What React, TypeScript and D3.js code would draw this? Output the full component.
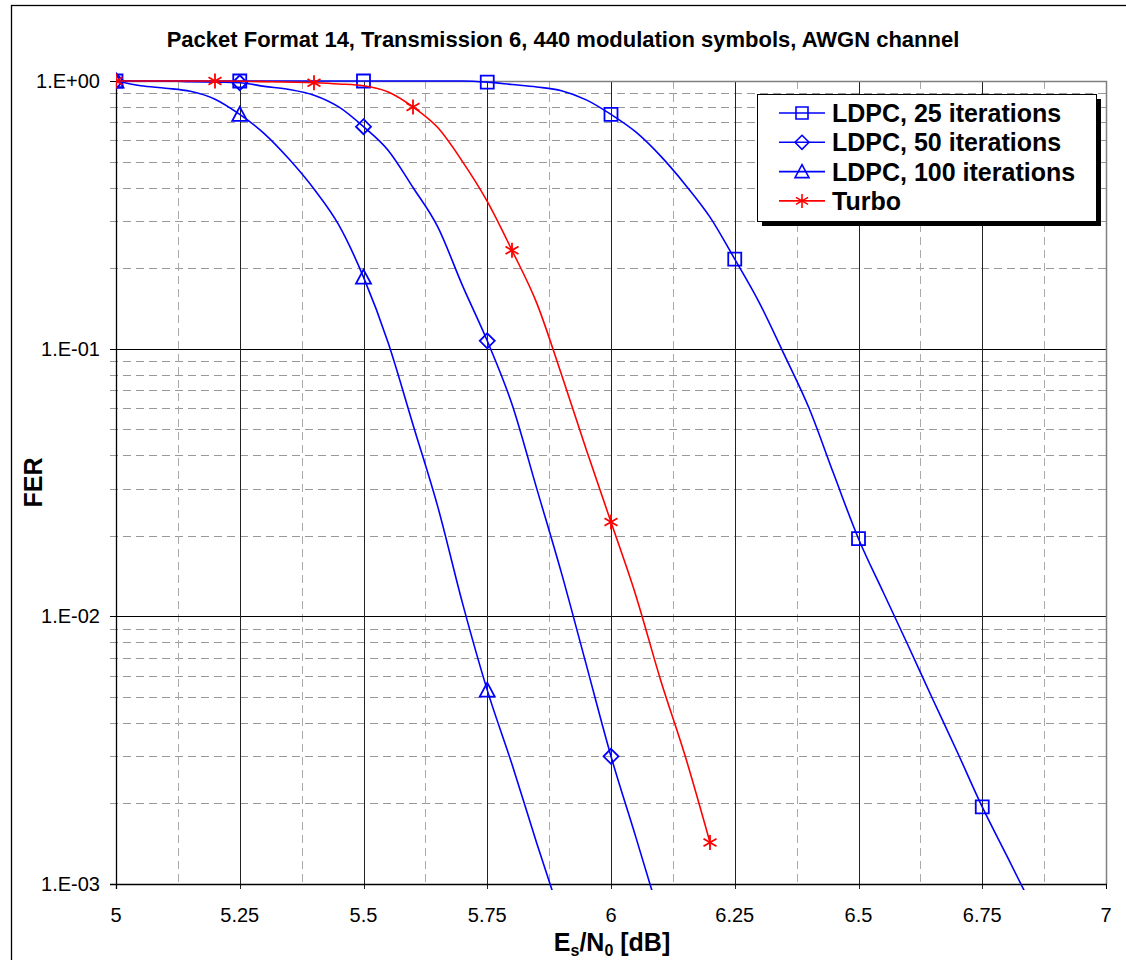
import * as d3 from 'd3';
import { useEffect, useRef } from 'react';

// Es/N0 (dB) sample points and FER
const ldpc25Snr = [5.0, 5.25, 5.5, 5.6, 5.7, 5.75, 5.8, 5.85, 5.9, 5.95, 6.0, 6.05, 6.1, 6.15, 6.2, 6.25, 6.3, 6.35, 6.4, 6.45, 6.5, 6.55, 6.6, 6.65, 6.7, 6.75, 6.8, 6.85];
const ldpc25Fer = [1.0, 1.0, 1.0, 1.0, 1.0, 0.99, 0.97, 0.95, 0.92, 0.85, 0.75, 0.645, 0.525, 0.41, 0.31, 0.216, 0.148, 0.095, 0.06, 0.034, 0.0195, 0.0123, 0.0078, 0.0049, 0.0031, 0.00194, 0.00127, 0.00083];

const ldpc50Snr = [5.0, 5.05, 5.1, 5.15, 5.2, 5.25, 5.3, 5.35, 5.4, 5.45, 5.5, 5.55, 5.6, 5.65, 5.7, 5.75, 5.8, 5.85, 5.9, 5.95, 6.0, 6.05, 6.1];
const ldpc50Fer = [1.0, 1.0, 1.0, 0.995, 0.99, 0.985, 0.955, 0.93, 0.885, 0.8, 0.675, 0.55, 0.4, 0.285, 0.172, 0.107, 0.062, 0.03, 0.0145, 0.0066, 0.003, 0.0015, 0.00074];

const ldpc100Snr = [5.0, 5.05, 5.1, 5.15, 5.2, 5.25, 5.3, 5.35, 5.4, 5.45, 5.5, 5.55, 5.6, 5.65, 5.7, 5.75, 5.8, 5.85, 5.9];
const ldpc100Fer = [1.0, 0.96, 0.94, 0.915, 0.855, 0.75, 0.635, 0.51, 0.395, 0.29, 0.185, 0.105, 0.052, 0.0257, 0.0112, 0.0053, 0.0028, 0.00142, 0.00074];

const turboSnr = [5.0, 5.1, 5.2, 5.3, 5.4, 5.45, 5.5, 5.55, 5.6, 5.65, 5.7, 5.75, 5.8, 5.85, 5.9, 5.95, 6.0, 6.05, 6.1, 6.15, 6.2];
const turboFer = [1.0, 1.0, 1.0, 0.995, 0.985, 0.975, 0.96, 0.91, 0.8, 0.67, 0.5, 0.355, 0.233, 0.148, 0.08, 0.042, 0.0225, 0.012, 0.0058, 0.003, 0.00143];

// points that carry a marker
const ldpcMarkerSnr = [5.0, 5.25, 5.5, 5.75, 6.0, 6.25, 6.5, 6.75];
const turboMarkerSnr = [5.0, 5.2, 5.4, 5.6, 5.8, 6.0, 6.2];

const seriesNames = ['LDPC, 25 iterations', 'LDPC, 50 iterations', 'LDPC, 100 iterations', 'Turbo'];
const xTickValues = [5, 5.25, 5.5, 5.75, 6, 6.25, 6.5, 6.75, 7];
const xTickLabels = ['5', '5.25', '5.5', '5.75', '6', '6.25', '6.5', '6.75', '7'];
const yTickValues = [1, 0.1, 0.01, 0.001];
const yTickLabels = ['1.E+00', '1.E-01', '1.E-02', '1.E-03'];

const TITLE = 'Packet Format 14, Transmission 6, 440 modulation symbols, AWGN channel';
const FONT = '"Liberation Sans", Arial, sans-serif';

const W = 1126;
const H = 960;

export default function App() {
  const ref = useRef<SVGSVGElement>(null);

  useEffect(() => {
    const svg = d3.select(ref.current);
    svg.selectAll('*').remove();

    const plot = { left: 116, right: 1106, top: 81, bottom: 884 };
    const x = d3.scaleLinear().domain([5, 7]).range([plot.left, plot.right]);
    const y = d3.scaleLog().domain([0.001, 1]).range([plot.bottom, plot.top]);

    // chart area border
    svg.append('rect')
      .attr('x', 11.5).attr('y', 5.5)
      .attr('width', 1200).attr('height', 1200)
      .attr('fill', '#fff').attr('stroke', '#000').attr('stroke-width', 1.3);

    svg.append('text')
      .attr('x', 563).attr('y', 47)
      .attr('text-anchor', 'middle')
      .style('font-family', FONT).style('font-weight', 'bold').style('font-size', '22px')
      .text(TITLE);

    const grid = svg.append('g');

    // minor horizontal grid (2..9 per decade)
    const minorY: number[] = [];
    [0.001, 0.01, 0.1].forEach((dec) => {
      for (let m = 2; m <= 9; m++) minorY.push(m * dec);
    });
    grid.selectAll('.hminor').data(minorY).enter().append('line')
      .attr('x1', plot.left - 6).attr('x2', plot.right)
      .attr('y1', (d) => Math.round(y(d)) + 0.5).attr('y2', (d) => Math.round(y(d)) + 0.5)
      .attr('stroke', '#999').attr('stroke-width', 1).attr('stroke-dasharray', '8,5');

    // minor vertical grid
    const minorX = xTickValues.slice(0, -1).map((v) => v + 0.125);
    grid.selectAll('.vminor').data(minorX).enter().append('line')
      .attr('x1', (d) => Math.round(x(d)) + 0.5).attr('x2', (d) => Math.round(x(d)) + 0.5)
      .attr('y1', plot.top).attr('y2', plot.bottom)
      .attr('stroke', '#aaa').attr('stroke-width', 1).attr('stroke-dasharray', '8,5');

    // major grid
    grid.selectAll('.hmajor').data([0.1, 0.01]).enter().append('line')
      .attr('x1', plot.left - 6).attr('x2', plot.right)
      .attr('y1', (d) => Math.round(y(d)) + 0.5).attr('y2', (d) => Math.round(y(d)) + 0.5)
      .attr('stroke', '#000').attr('stroke-width', 1);
    grid.selectAll('.vmajor').data(xTickValues.slice(1, -1)).enter().append('line')
      .attr('x1', (d) => Math.round(x(d)) + 0.5).attr('x2', (d) => Math.round(x(d)) + 0.5)
      .attr('y1', plot.top).attr('y2', plot.bottom + 5)
      .attr('stroke', '#222').attr('stroke-width', 1);

    // plot border top/right
    grid.append('path')
      .attr('d', `M${plot.left},${plot.top + 0.5}H${plot.right + 0.5}V${plot.bottom}`)
      .attr('fill', 'none').attr('stroke', '#808080').attr('stroke-width', 1.5);

    // axes
    grid.append('line')
      .attr('x1', plot.left + 0.5).attr('x2', plot.left + 0.5)
      .attr('y1', plot.top).attr('y2', plot.bottom + 5)
      .attr('stroke', '#000').attr('stroke-width', 1.3);
    grid.append('line')
      .attr('x1', plot.left - 6).attr('x2', plot.right + 1)
      .attr('y1', plot.bottom + 0.5).attr('y2', plot.bottom + 0.5)
      .attr('stroke', '#000').attr('stroke-width', 1.3);
    grid.selectAll('.ytick').data(yTickValues).enter().append('line')
      .attr('x1', plot.left - 6).attr('x2', plot.left)
      .attr('y1', (d) => Math.round(y(d)) + 0.5).attr('y2', (d) => Math.round(y(d)) + 0.5)
      .attr('stroke', '#000');
    grid.append('line')
      .attr('x1', Math.round(x(7)) + 0.5).attr('x2', Math.round(x(7)) + 0.5)
      .attr('y1', plot.bottom).attr('y2', plot.bottom + 5)
      .attr('stroke', '#000');

    // tick labels
    svg.selectAll('.ylab').data(yTickValues).enter().append('text')
      .attr('x', 100).attr('y', (d) => y(d) + 7)
      .attr('text-anchor', 'end')
      .style('font-family', FONT).style('font-size', '20px')
      .text((d, i) => yTickLabels[i]);
    svg.selectAll('.xlab').data(xTickValues).enter().append('text')
      .attr('x', (d) => x(d)).attr('y', 922)
      .attr('text-anchor', 'middle')
      .style('font-family', FONT).style('font-size', '20px')
      .text((d, i) => xTickLabels[i]);

    // axis titles
    const xt = svg.append('text')
      .attr('x', 612).attr('y', 951)
      .attr('text-anchor', 'middle')
      .style('font-family', FONT).style('font-weight', 'bold').style('font-size', '25px');
    xt.append('tspan').text('E');
    xt.append('tspan').attr('dy', 5).style('font-size', '16px').text('s');
    xt.append('tspan').attr('dy', -5).text('/N');
    xt.append('tspan').attr('dy', 5).style('font-size', '16px').text('0');
    xt.append('tspan').attr('dy', -5).text(' [dB]');

    svg.append('text')
      .attr('transform', `translate(42,${(plot.top + plot.bottom) / 2}) rotate(-90)`)
      .attr('text-anchor', 'middle')
      .style('font-family', FONT).style('font-weight', 'bold').style('font-size', '25px')
      .text('FER');

    // series
    const series = [
      { snr: ldpc25Snr, fer: ldpc25Fer, color: '#0000ff', marker: 'square', marks: ldpcMarkerSnr },
      { snr: ldpc50Snr, fer: ldpc50Fer, color: '#0000ff', marker: 'diamond', marks: ldpcMarkerSnr },
      { snr: ldpc100Snr, fer: ldpc100Fer, color: '#0000ff', marker: 'triangle', marks: ldpcMarkerSnr },
      { snr: turboSnr, fer: turboFer, color: '#ff0000', marker: 'star', marks: turboMarkerSnr },
    ];

    svg.append('clipPath').attr('id', 'plotclip')
      .append('rect')
      .attr('x', plot.left).attr('y', plot.top - 10)
      .attr('width', plot.right - plot.left).attr('height', plot.bottom - plot.top + 16);

    const line = d3.line<[number, number]>()
      .x((d) => x(d[0]))
      .y((d) => y(d[1]))
      .curve(d3.curveMonotoneX);

    const markerPath = (type: string, cx: number, cy: number, s: number) => {
      const h = s / 2;
      if (type === 'square') return `M${cx - h},${cy - h}h${s}v${s}h${-s}Z`;
      if (type === 'diamond') return `M${cx},${cy - h - 1}L${cx + h + 1},${cy}L${cx},${cy + h + 1}L${cx - h - 1},${cy}Z`;
      if (type === 'triangle') return `M${cx},${cy - h - 1}L${cx + h + 1},${cy + h}L${cx - h - 1},${cy + h}Z`;
      const r = h + 1;
      const dx = r * Math.cos(Math.PI / 6);
      const dy = r * Math.sin(Math.PI / 6);
      return `M${cx},${cy - r}V${cy + r}M${cx - dx},${cy - dy}L${cx + dx},${cy + dy}M${cx - dx},${cy + dy}L${cx + dx},${cy - dy}`;
    };

    const lines = svg.append('g').attr('clip-path', 'url(#plotclip)');
    series.forEach((s) => {
      const pts = s.snr.map((v, i) => [v, s.fer[i]] as [number, number]);
      lines.append('path')
        .attr('d', line(pts))
        .attr('fill', 'none')
        .attr('stroke', s.color)
        .attr('stroke-width', 1.6);
      const markPts = pts.filter((p) => s.marks.some((m) => Math.abs(m - p[0]) < 1e-6));
      lines.selectAll(null).data(markPts).enter().append('path')
        .attr('d', (p) => markerPath(s.marker, x(p[0]), y(p[1]), 13))
        .attr('fill', 'none')
        .attr('stroke', s.color)
        .attr('stroke-width', 1.8);
    });

    // legend
    const lg = svg.append('g');
    const lx = 757;
    const ly = 94;
    const lw = 339;
    const lh = 127;
    lg.append('rect').attr('x', lx + 5).attr('y', ly + 5).attr('width', lw).attr('height', lh).attr('fill', '#000');
    lg.append('rect').attr('x', lx + 0.5).attr('y', ly + 0.5).attr('width', lw).attr('height', lh)
      .attr('fill', '#fff').attr('stroke', '#000').attr('stroke-width', 1);
    seriesNames.forEach((name, i) => {
      const s = series[i];
      const cy = ly + 19 + i * 29.3;
      lg.append('line')
        .attr('x1', 779).attr('x2', 825).attr('y1', cy).attr('y2', cy)
        .attr('stroke', s.color).attr('stroke-width', 1.6);
      lg.append('path')
        .attr('d', markerPath(s.marker, 802, cy, 12))
        .attr('fill', 'none').attr('stroke', s.color).attr('stroke-width', 1.6);
      lg.append('text')
        .attr('x', 832).attr('y', cy + 9)
        .style('font-family', FONT).style('font-weight', 'bold').style('font-size', '25px')
        .text(name);
    });
  }, []);

  return (
    <svg
      ref={ref}
      width={W}
      height={H}
      style={{ position: 'absolute', left: 0, top: 0, background: '#fff' }}
    />
  );
}
